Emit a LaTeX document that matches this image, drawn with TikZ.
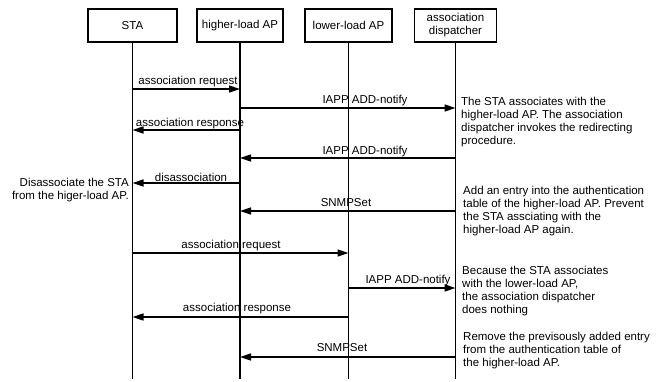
\documentclass[tikz,border=0pt]{standalone}
\usepackage{fontspec}
\setmainfont{Liberation Sans}
\usetikzlibrary{arrows.meta}

\begin{document}
\begin{tikzpicture}[x=1pt,y=-1pt,
  every node/.style={font=\fontsize{11.5}{13}\selectfont},
  entity/.style={draw,line width=1.6pt,minimum height=33pt,inner sep=1pt,align=center,
                 font=\fontsize{11.5}{13}\selectfont},
  lifeline/.style={line width=1.6pt},
  msg/.style={line width=1.5pt,-{Triangle[length=11pt,width=7pt]}},
  msglabel/.style={anchor=base,inner sep=0pt},
  note/.style={anchor=north west,inner sep=0pt,align=left,
               font=\fontsize{11.5}{13}\selectfont},
]
\useasboundingbox (0,0) rectangle (662,381);

% participants
\node[entity,minimum width=89pt] (sta)  at (132.5,25.5) {STA};
\node[entity,minimum width=86pt] (hap)  at (240,25.5)   {higher-load AP};
\node[entity,minimum width=87pt] (lap)  at (348.5,25.5) {lower-load AP};
\node[entity,minimum width=82pt] (disp) at (455.5,25.5) {association\\dispatcher};

% bottom of the lifelines and the message rows
\coordinate (bottom) at (0,379);
\foreach \n/\y in {m1/89,m2/108,m3/130,m4/158,m5/183,m6/211,m7/253,m8/288,m9/317,m10/357}
  \coordinate (\n) at (0,\y);

% lifelines
\foreach \p in {sta,hap,lap,disp}
  \draw[lifeline] (\p.south) -- (\p |- bottom);

% messages
\draw[msg] (sta |- m1)  -- (hap |- m1);
\draw[msg] (hap |- m2)  -- (disp |- m2);
\draw[msg] (hap |- m3)  -- (sta |- m3);
\draw[msg] (disp |- m4) -- (hap |- m4);
\draw[msg] (hap |- m5)  -- (sta |- m5);
\draw[msg] (disp |- m6) -- (hap |- m6);
\draw[msg] (sta |- m7)  -- (lap |- m7);
\draw[msg] (lap |- m8)  -- (disp |- m8);
\draw[msg] (lap |- m9)  -- (sta |- m9);
\draw[msg] (disp |- m10) -- (hap |- m10);

% message labels
\node[msglabel] (l1)  at (188,84)  {association request};
\node[msglabel] (l2)  at (365,103) {IAPP ADD-notify};
\node[msglabel] (l3)  at (190,126) {association response};
\node[msglabel] (l4)  at (365,154) {IAPP ADD-notify};
\node[msglabel] (l5)  at (191,181) {disassociation};
\node[msglabel] (l6)  at (346,206) {SNMPSet};
\node[msglabel] (l7)  at (231,248) {association request};
\node[msglabel] (l8)  at (408,283) {IAPP ADD-notify};
\node[msglabel] (l9)  at (237,311) {association response};
\node[msglabel] (l10) at (342,351) {SNMPSet};

% notes
\node[note] (n1) at (461,96.5) {The STA associates with the\\higher-load AP. The association\\dispatcher invokes the redirecting\\procedure.};
\node[note] (n2) at (463,185.5) {Add an entry into the authentication\\table of the higher-load AP. Prevent\\the STA assciating with the\\higher-load AP again.};
\node[note] (n3) at (462,265.5) {Because the STA associates\\with the lower-load AP,\\the association dispatcher\\does nothing};
\node[note] (n4) at (463,331.5) {Remove the previsously added entry\\from the authentication table of\\the higher-load AP.};
\node[note,anchor=north east,align=right] (n5) at (129,177.5) {Disassociate the STA\\from the higer-load AP.};
\end{tikzpicture}
\end{document}
